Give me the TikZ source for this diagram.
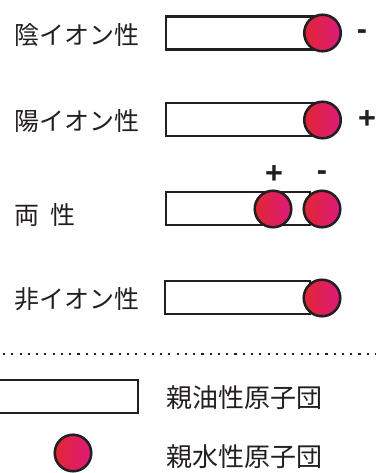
\documentclass[tikz,border=0pt]{standalone}
\usepackage{fontspec}
\setmainfont{Noto Sans CJK JP}
\newfontfamily\signfont{Liberation Sans}
\definecolor{hl}{RGB}{226,38,52}
\definecolor{hr}{RGB}{220,26,122}
\definecolor{ink}{RGB}{35,31,32}
\tikzset{
  rectbox/.style={draw=ink,line width=2pt,fill=white,inner sep=0pt,minimum height=24.75pt},
  headball/.style={circle,draw=ink,line width=1.9pt,left color=hl,right color=hr,shading angle=90,minimum size=27.4pt,inner sep=0pt},
  lbl/.style={anchor=west,inner sep=0pt,text=ink,font=\fontsize{18.75pt}{20pt}\selectfont},
  leg/.style={anchor=west,inner sep=0pt,text=ink,font=\fontsize{19.5pt}{21pt}\selectfont},
  sign/.style={inner sep=0pt,text=ink,font=\signfont\bfseries\fontsize{23pt}{25pt}\selectfont}
}
\begin{document}
\begin{tikzpicture}[x=0.75pt,y=-0.75pt]
\useasboundingbox (0,0) rectangle (376,473);
% row 1
\node[lbl] (t1) at (14,35) {陰イオン性};
\node[rectbox,minimum width=115.5pt] (r1) at (243,33) {};
\node[headball] (c1) at (322.5,33) {};
\node[sign] (s1) at (362,35) {-};
% row 2
\node[lbl] (t2) at (14,121) {陽イオン性};
\node[rectbox,minimum width=115.5pt] (r2) at (243,119.5) {};
\node[headball] (c2) at (322.5,120) {};
\node[sign] (s2) at (367,120) {+};
% row 3
\node[lbl] (t3) at (14,215) {両\ \ 性};
\node[rectbox,minimum width=108pt] (r3) at (238,208.5) {};
\node[headball] (c3a) at (273,209) {};
\node[headball] (c3b) at (322,209) {};
\node[sign] (s3a) at (274,175) {+};
\node[sign] (s3b) at (322,176) {-};
% row 4
\node[lbl] (t4) at (14,299) {非イオン性};
\node[rectbox,minimum width=108.75pt] (r4) at (237.5,297.5) {};
\node[headball] (c4) at (322,298) {};
% divider
\coordinate (dl) at (3,354);
\coordinate (dr) at (376,354);
\draw[ink,line width=1.6pt,dash pattern=on 1.6pt off 4.6pt] (dl) -- (dr);
% legend
\node[rectbox,minimum width=107.25pt] (lr) at (66.5,396.5) {};
\node[leg] (lt1) at (166,398) {親油性原子団};
\node[headball] (lc) at (73,453) {};
\node[leg] (lt2) at (166,457) {親水性原子団};
\end{tikzpicture}
\end{document}
